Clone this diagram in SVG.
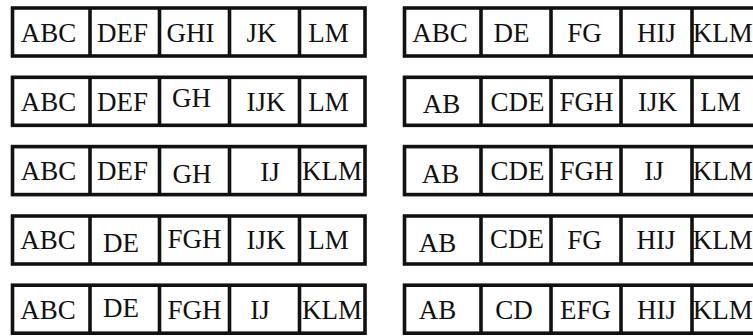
<svg xmlns="http://www.w3.org/2000/svg" width="753" height="336" viewBox="0 0 753 336">
<style>
.box{fill:#fff;stroke:#111;stroke-width:3.6}
.div{stroke:#111;stroke-width:3.6}
text{font-family:"Liberation Serif","Times New Roman",serif;font-size:27px;fill:#111;text-anchor:middle}
</style>
<rect width="753" height="336" fill="#fff"/>
<defs>
<g id="rowL">
<rect class="box" x="12.5" y="0" width="352.5" height="48"/>
<line class="div" x1="90" y1="0" x2="90" y2="48"/>
<line class="div" x1="159.5" y1="0" x2="159.5" y2="48"/>
<line class="div" x1="229.5" y1="0" x2="229.5" y2="48"/>
<line class="div" x1="299.5" y1="0" x2="299.5" y2="48"/>
</g>
<g id="rowR">
<rect class="box" x="404.5" y="0" width="360" height="48"/>
<line class="div" x1="481" y1="0" x2="481" y2="48"/>
<line class="div" x1="551" y1="0" x2="551" y2="48"/>
<line class="div" x1="621" y1="0" x2="621" y2="48"/>
<line class="div" x1="692" y1="0" x2="692" y2="48"/>
</g>
</defs>

<g id="left-row-1">
<use href="#rowL" y="8"/>
<text x="48.5" y="41.5">ABC</text>
<text x="122.5" y="41.5">DEF</text>
<text x="190.5" y="41.5">GHI</text>
<text x="261.5" y="41.5">JK</text>
<text x="328.5" y="41.5">LM</text>
</g>
<g id="left-row-2">
<use href="#rowL" y="77.3"/>
<text x="48.5" y="110.8">ABC</text>
<text x="122.5" y="110.8">DEF</text>
<text x="191.5" y="107.3">GH</text>
<text x="266" y="110.8">IJK</text>
<text x="328.5" y="110.8">LM</text>
</g>
<g id="left-row-3">
<use href="#rowL" y="146.6"/>
<text x="48.5" y="180">ABC</text>
<text x="122.5" y="180">DEF</text>
<text x="192" y="183">GH</text>
<text x="270" y="181">IJ</text>
<text x="332" y="180">KLM</text>
</g>
<g id="left-row-4">
<use href="#rowL" y="216"/>
<text x="48" y="249">ABC</text>
<text x="121" y="251.5">DE</text>
<text x="194.5" y="248">FGH</text>
<text x="266" y="249">IJK</text>
<text x="328.5" y="249">LM</text>
</g>
<g id="left-row-5">
<use href="#rowL" y="285.2"/>
<text x="48" y="319">ABC</text>
<text x="121" y="316.5">DE</text>
<text x="194.5" y="319">FGH</text>
<text x="260" y="319">IJ</text>
<text x="332" y="319">KLM</text>
</g>

<g id="right-row-1">
<use href="#rowR" y="8"/>
<text x="440" y="41.5">ABC</text>
<text x="511.5" y="41.5">DE</text>
<text x="584.5" y="41.5">FG</text>
<text x="656.5" y="41.5">HIJ</text>
<text x="722.8" y="41.5">KLM</text>
</g>
<g id="right-row-2">
<use href="#rowR" y="77.3"/>
<text x="441.5" y="113.3">AB</text>
<text x="517.5" y="110.8">CDE</text>
<text x="586.5" y="110.8">FGH</text>
<text x="657.5" y="110.8">IJK</text>
<text x="720.5" y="110.8">LM</text>
</g>
<g id="right-row-3">
<use href="#rowR" y="146.6"/>
<text x="440.5" y="183">AB</text>
<text x="517.5" y="180">CDE</text>
<text x="586.5" y="180">FGH</text>
<text x="654" y="180">IJ</text>
<text x="722.8" y="180">KLM</text>
</g>
<g id="right-row-4">
<use href="#rowR" y="216"/>
<text x="437.5" y="251.5">AB</text>
<text x="517" y="248">CDE</text>
<text x="584.5" y="249">FG</text>
<text x="656" y="249">HIJ</text>
<text x="722.8" y="249">KLM</text>
</g>
<g id="right-row-5">
<use href="#rowR" y="285.2"/>
<text x="437.5" y="319">AB</text>
<text x="514" y="319">CD</text>
<text x="585.5" y="319">EFG</text>
<text x="656.5" y="319">HIJ</text>
<text x="722.8" y="319">KLM</text>
</g>
</svg>
